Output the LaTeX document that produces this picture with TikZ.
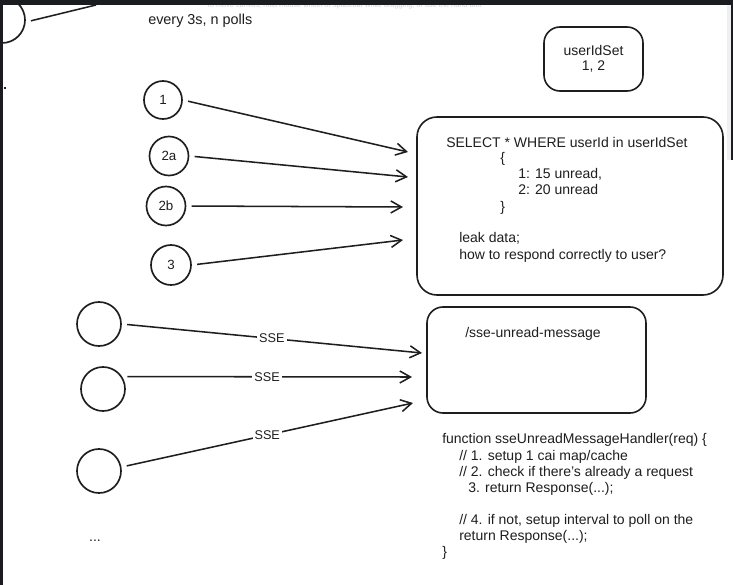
\documentclass[tikz,border=0pt]{standalone}
\usepackage{fontspec}
\setmainfont{Liberation Sans}
\usetikzlibrary{arrows.meta}
\definecolor{ink}{HTML}{1E1E1E}
\definecolor{frame}{HTML}{1B1C1F}
\definecolor{hint}{HTML}{D2D2D2}
\definecolor{edge}{HTML}{EFEFEF}
\begin{document}
\begin{tikzpicture}[x=0.75pt,y=-0.75pt,
  txt/.style={font=\fontsize{10.5}{12}\selectfont, text=ink, inner sep=0pt, anchor=base west},
  ring/.style={draw=ink, line width=1.25pt, circle, inner sep=0pt, text=ink, font=\fontsize{10}{12}\selectfont},
  rbox/.style={draw=ink, line width=1.2pt, rounded corners=12pt, inner sep=0pt},
  link/.style={draw=ink, line width=1.15pt, -{Straight Barb[length=8pt,width=9pt,line width=1.15pt]}, shorten <=4pt},
  ssel/.style={fill=white, inner sep=1.5pt, text=ink, font=\fontsize{9.5}{11}\selectfont, pos=0.5}
]
\useasboundingbox (0,0) rectangle (733,585);
\fill[white] (0,0) rectangle (733,585);

% faint canvas hint (mostly hidden)
\node[font=\fontsize{5.5}{6}\selectfont, text=hint, anchor=base west, inner sep=0pt] (hint) at (206,7.5)
  {To move canvas, hold mouse wheel or spacebar while dragging, or use the hand tool};

% top-left partial circle and its line
\node[ring, minimum size=0.75*46pt] (c0) at (2,20) {};
\coordinate (e0) at (96,5);
\draw[draw=ink, line width=1.15pt, shorten <=4pt] (c0.-5) -- (e0);

% caption
\node[txt, font=\fontsize{10.8}{12}\selectfont] (cap) at (148,25) {every 3s, n polls};

% userIdSet box
\node[rbox, minimum width=0.75*99pt, minimum height=0.75*64pt, align=center, text=ink,
      font=\fontsize{10.5}{11.25}\selectfont] (ubox) at (593.5,59) {userIdSet\\1, 2};

% query box
\node[rbox, rounded corners=15pt, minimum width=0.75*306pt, minimum height=0.75*178pt] (qbox) at (570,206) {};
\node[txt] (q1) at (446,148) {SELECT * WHERE userId in userIdSet};
\node[txt] (q2) at (500,163) {\{};
\node[txt] (q3) at (518,179) {1: 15 unread,};
\node[txt] (q4) at (518,195) {2: 20 unread};
\node[txt] (q5) at (500,211) {\}};
\node[txt] (q6) at (459,243) {leak data;};
\node[txt] (q7) at (459,259) {how to respond correctly to user?};

% numbered clients
\node[ring, minimum size=0.75*38pt] (c1) at (163,100) {1};
\node[ring, minimum size=0.75*39pt] (c2a) at (169,156) {2a};
\node[ring, minimum size=0.75*39pt] (c2b) at (166,206) {2b};
\node[ring, minimum size=0.75*40pt] (c3) at (171,265) {3};

\coordinate (t1) at (408,152);
\coordinate (t2a) at (408,177);
\coordinate (t2b) at (403,207);
\coordinate (t3) at (403,240);
\draw[link] (c1.east) -- (t1);
\draw[link] (c2a.east) -- (t2a);
\draw[link] (c2b.east) -- (t2b);
\draw[link] (c3.east) -- (t3);

% SSE box
\node[rbox, minimum width=0.75*219pt, minimum height=0.75*106pt] (sbox) at (536.5,360) {};
\node[txt] (s1) at (465,337) {/sse-unread-message};

% SSE clients
\node[ring, minimum size=0.75*44pt] (cA) at (99,324) {};
\node[ring, minimum size=0.75*44pt] (cB) at (103,389) {};
\node[ring, minimum size=0.75*44pt] (cC) at (99,471) {};

\coordinate (tA) at (422,353);
\coordinate (tB) at (412,377);
\coordinate (tC) at (413,403);
\draw[link] (cA.east) -- (tA) node[ssel] (lA) {SSE};
\draw[link] (cB.33) -- (tB) node[ssel] (lB) {SSE};
\draw[link] (cC.10) -- (tC) node[ssel] (lC) {SSE};

\node[txt, anchor=base] (dots) at (95,541) {...};

% handler code
\node[txt] (f1) at (442,443) {function sseUnreadMessageHandler(req) \{};
\node[txt] (f2) at (459,460) {// 1. setup 1 cai map/cache};
\node[txt] (f3) at (459,476) {// 2. check if there's already a request};
\node[txt] (f4) at (468,492) {3. return Response(...);};
\node[txt] (f5) at (459,524) {// 4. if not, setup interval to poll on the};
\node[txt] (f6) at (459,540) {return Response(...);};
\node[txt] (f7) at (442,556) {\}};

% window frame
\fill[edge] (727,5) rectangle (731,160);
\fill[frame] (0,0) rectangle (733,5);
\fill[frame] (0,0) rectangle (3,585);
\fill[frame] (731,0) rectangle (733,160);
\fill[ink] (4,87) rectangle (6,89);
\end{tikzpicture}
\end{document}
